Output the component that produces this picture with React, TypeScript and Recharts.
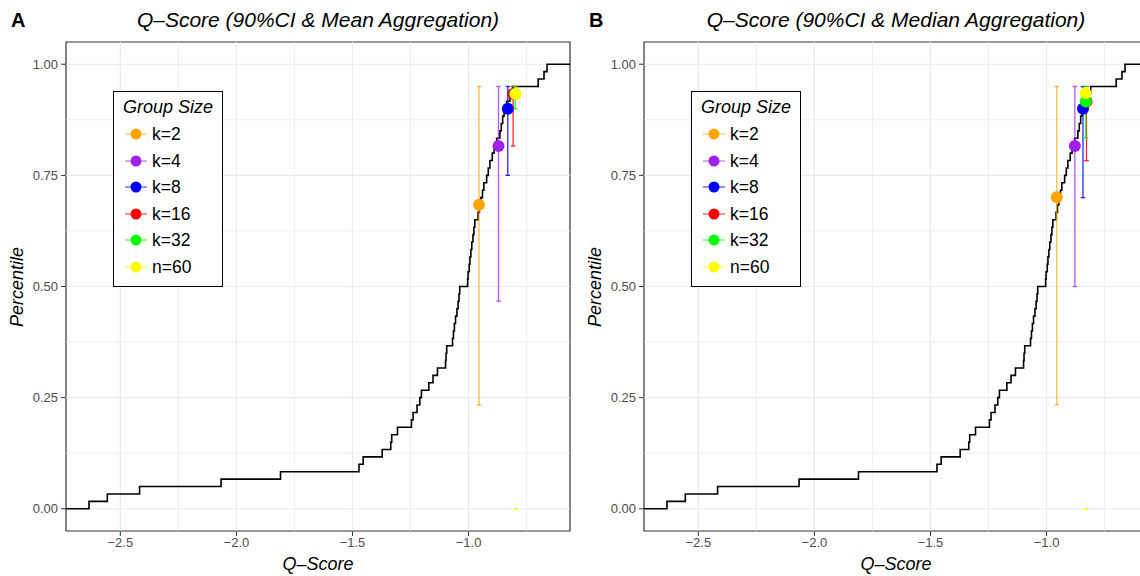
import React from 'react';
import { ComposedChart, Line, Scatter, ErrorBar, XAxis, YAxis, ReferenceLine, ReferenceArea } from 'recharts';

// Q-scores of the 60 items
const Q_SCORES = [
  -2.635, -2.556, -2.417, -2.066, -1.81, -1.472, -1.454, -1.372, -1.335, -1.331,
  -1.306, -1.246, -1.239, -1.222, -1.21, -1.203, -1.171, -1.153, -1.134, -1.099,
  -1.097, -1.094, -1.069, -1.065, -1.061, -1.056, -1.05, -1.045, -1.041, -1.038,
  -1.004, -1.002, -0.997, -0.994, -0.99, -0.986, -0.981, -0.977, -0.973, -0.959,
  -0.953, -0.947, -0.94, -0.934, -0.922, -0.915, -0.908, -0.898, -0.89, -0.879,
  -0.865, -0.859, -0.853, -0.847, -0.836, -0.822, -0.81, -0.7, -0.675, -0.662,
];

const X_DOMAIN = [-2.734, -0.563];
const Y_DOMAIN = [-0.05, 1.05];
const X_TICKS = [-2.5, -2.0, -1.5, -1.0];
const X_MINOR = [-2.25, -1.75, -1.25, -0.75];
const Y_TICKS = [0, 0.25, 0.5, 0.75, 1];
const Y_MINOR = [0.125, 0.375, 0.625, 0.875];

const GROUPS = ['k=2', 'k=4', 'k=8', 'k=16', 'k=32', 'n=60'];
const GROUP_COLORS = ['#FFA500', '#A020F0', '#0000FF', '#FF0000', '#00FF00', '#FFFF00'];
const BAR_COLORS = [
  'rgba(255,165,0,0.75)', 'rgba(160,32,240,0.75)', 'rgba(0,0,255,0.85)',
  'rgba(255,0,0,0.85)', 'rgba(0,255,0,0.85)', 'rgba(255,255,0,0.85)',
];

// mean aggregation (panel A)
const MEAN_Q = [-0.955, -0.871, -0.831, -0.808, -0.799, -0.797];
const MEAN_P = [0.684, 0.816, 0.9, 0.933, 0.933, 0.933];
const MEAN_LO = [0.233, 0.467, 0.75, 0.816, 0.9, 0];
const MEAN_HI = [0.95, 0.95, 0.95, 0.95, 0.95, 0];

// median aggregation (panel B)
const MED_Q = [-0.956, -0.878, -0.843, -0.828, -0.831, -0.832];
const MED_P = [0.701, 0.816, 0.9, 0.916, 0.916, 0.935];
const MED_LO = [0.234, 0.5, 0.7, 0.783, 0.834, 0];
const MED_HI = [0.95, 0.95, 0.95, 0.95, 0.95, 0];

const FONT = '"Liberation Sans", Arial, Helvetica, sans-serif';
const PANEL_W = 578;
const H = 576;

const ecdf = [
  { q: X_DOMAIN[0], p: 0 },
  ...Q_SCORES.map((q, i) => ({ q, p: (i + 1) / Q_SCORES.length })),
  { q: X_DOMAIN[1], p: 1 },
];

const fmtX = (v: number) => (v < 0 ? '\u2212' + Math.abs(v).toFixed(1) : v.toFixed(1));

type PanelProps = {
  letter: string;
  title: string;
  q: number[];
  p: number[];
  lo: number[];
  hi: number[];
  left: number;
};

const Legend = () => (
  <div
    style={{
      position: 'absolute', left: 113, top: 91, width: 108, height: 194,
      border: '1px solid #000', background: '#fff',
    }}
  >
    <div style={{ position: 'absolute', left: 9, top: 3, fontSize: 18, fontStyle: 'italic', lineHeight: '24px' }}>
      Group Size
    </div>
    {GROUPS.map((g, i) => (
      <div key={g} style={{ position: 'absolute', left: 0, top: 30 + i * 26.6, height: 24, width: 108 }}>
        <svg width={36} height={24} style={{ position: 'absolute', left: 8, top: 0 }}>
          <line x1={3} x2={25} y1={12} y2={12} stroke={BAR_COLORS[i]} strokeWidth={1} />
          <circle cx={14} cy={12} r={5.5} fill={GROUP_COLORS[i]} />
        </svg>
        <span style={{ position: 'absolute', left: 38, top: 0, fontSize: 17.5, lineHeight: '24px' }}>{g}</span>
      </div>
    ))}
  </div>
);

const Panel = ({ letter, title, q, p, lo, hi, left }: PanelProps) => {
  const points = GROUPS.map((g, i) => ({ q: q[i], p: p[i], g: i }));
  return (
    <div style={{ position: 'absolute', left, top: 0, width: PANEL_W, height: H }}>
      <div style={{ position: 'absolute', left: 11, top: 8, fontSize: 20, fontWeight: 'bold', lineHeight: '24px' }}>
        {letter}
      </div>
      <div
        style={{
          position: 'absolute', left: 318, top: 20, transform: 'translate(-50%,-50%)',
          fontSize: 21, fontStyle: 'italic', whiteSpace: 'nowrap',
        }}
      >
        {title}
      </div>
      <ComposedChart width={PANEL_W} height={H} margin={{ top: 42, right: 8, bottom: 0, left: 0 }}>
        <XAxis
          dataKey="q"
          type="number"
          domain={X_DOMAIN}
          allowDataOverflow
          ticks={X_TICKS}
          tickFormatter={fmtX}
          height={45}
          axisLine={false}
          tickSize={5}
          tickMargin={2}
          tickLine={{ stroke: '#333333' }}
          tick={{ fill: '#4D4D4D', fontSize: 13, fontFamily: FONT }}
        />
        <YAxis
          dataKey="p"
          type="number"
          domain={Y_DOMAIN}
          allowDataOverflow
          ticks={Y_TICKS}
          tickFormatter={(v: number) => v.toFixed(2)}
          width={66}
          axisLine={false}
          tickSize={5}
          tickMargin={3}
          tickLine={{ stroke: '#333333' }}
          tick={{ fill: '#4D4D4D', fontSize: 13, fontFamily: FONT }}
        />
        {X_MINOR.map((v) => (
          <ReferenceLine key={'xm' + v} x={v} stroke="#EBEBEB" strokeWidth={0.8} ifOverflow="hidden" />
        ))}
        {Y_MINOR.map((v) => (
          <ReferenceLine key={'ym' + v} y={v} stroke="#EBEBEB" strokeWidth={0.8} ifOverflow="hidden" />
        ))}
        {X_TICKS.map((v) => (
          <ReferenceLine key={'x' + v} x={v} stroke="#EBEBEB" strokeWidth={1.2} />
        ))}
        {Y_TICKS.map((v) => (
          <ReferenceLine key={'y' + v} y={v} stroke="#EBEBEB" strokeWidth={1.2} />
        ))}
        <Line
          data={ecdf}
          dataKey="p"
          type="stepAfter"
          stroke="#000"
          strokeWidth={1.6}
          dot={false}
          activeDot={false}
          isAnimationActive={false}
        />
        {GROUPS.map((g, i) => (
          <Scatter
            key={'bar' + g}
            data={[{ q: q[i], p: p[i], err: [p[i] - lo[i], hi[i] - p[i]] }]}
            shape={() => <g />}
            isAnimationActive={false}
          >
            <ErrorBar dataKey="err" direction="y" width={2.3} stroke={BAR_COLORS[i]} strokeWidth={1.3} isAnimationActive={false} />
          </Scatter>
        ))}
        <Scatter
          data={points}
          isAnimationActive={false}
          shape={(s: any) => <circle cx={s.cx} cy={s.cy} r={6} fill={GROUP_COLORS[s.payload.g]} />}
        />
        <ReferenceArea
          x1={X_DOMAIN[0]}
          x2={X_DOMAIN[1]}
          y1={Y_DOMAIN[0]}
          y2={Y_DOMAIN[1]}
          fill="none"
          fillOpacity={0}
          stroke="#333333"
          strokeWidth={1.2}
        />
      </ComposedChart>
      <Legend />
      <div
        style={{
          position: 'absolute', left: 17, top: 287, transform: 'translate(-50%,-50%) rotate(-90deg)',
          fontSize: 18, fontStyle: 'italic', whiteSpace: 'nowrap',
        }}
      >
        Percentile
      </div>
      <div
        style={{
          position: 'absolute', left: 318, top: 564, transform: 'translate(-50%,-50%)',
          fontSize: 18, fontStyle: 'italic', whiteSpace: 'nowrap',
        }}
      >
        Q{'\u2013'}Score
      </div>
    </div>
  );
};

export default function App() {
  return (
    <div
      style={{
        position: 'relative', width: 1140, height: H, overflow: 'hidden',
        background: '#fff', fontFamily: FONT, color: '#000',
      }}
    >
      <style>{'body{margin:0}'}</style>
      <Panel letter="A" title={'Q\u2013Score (90%CI & Mean Aggregation)'} q={MEAN_Q} p={MEAN_P} lo={MEAN_LO} hi={MEAN_HI} left={0} />
      <Panel letter="B" title={'Q\u2013Score (90%CI & Median Aggregation)'} q={MED_Q} p={MED_P} lo={MED_LO} hi={MED_HI} left={578} />
    </div>
  );
}
